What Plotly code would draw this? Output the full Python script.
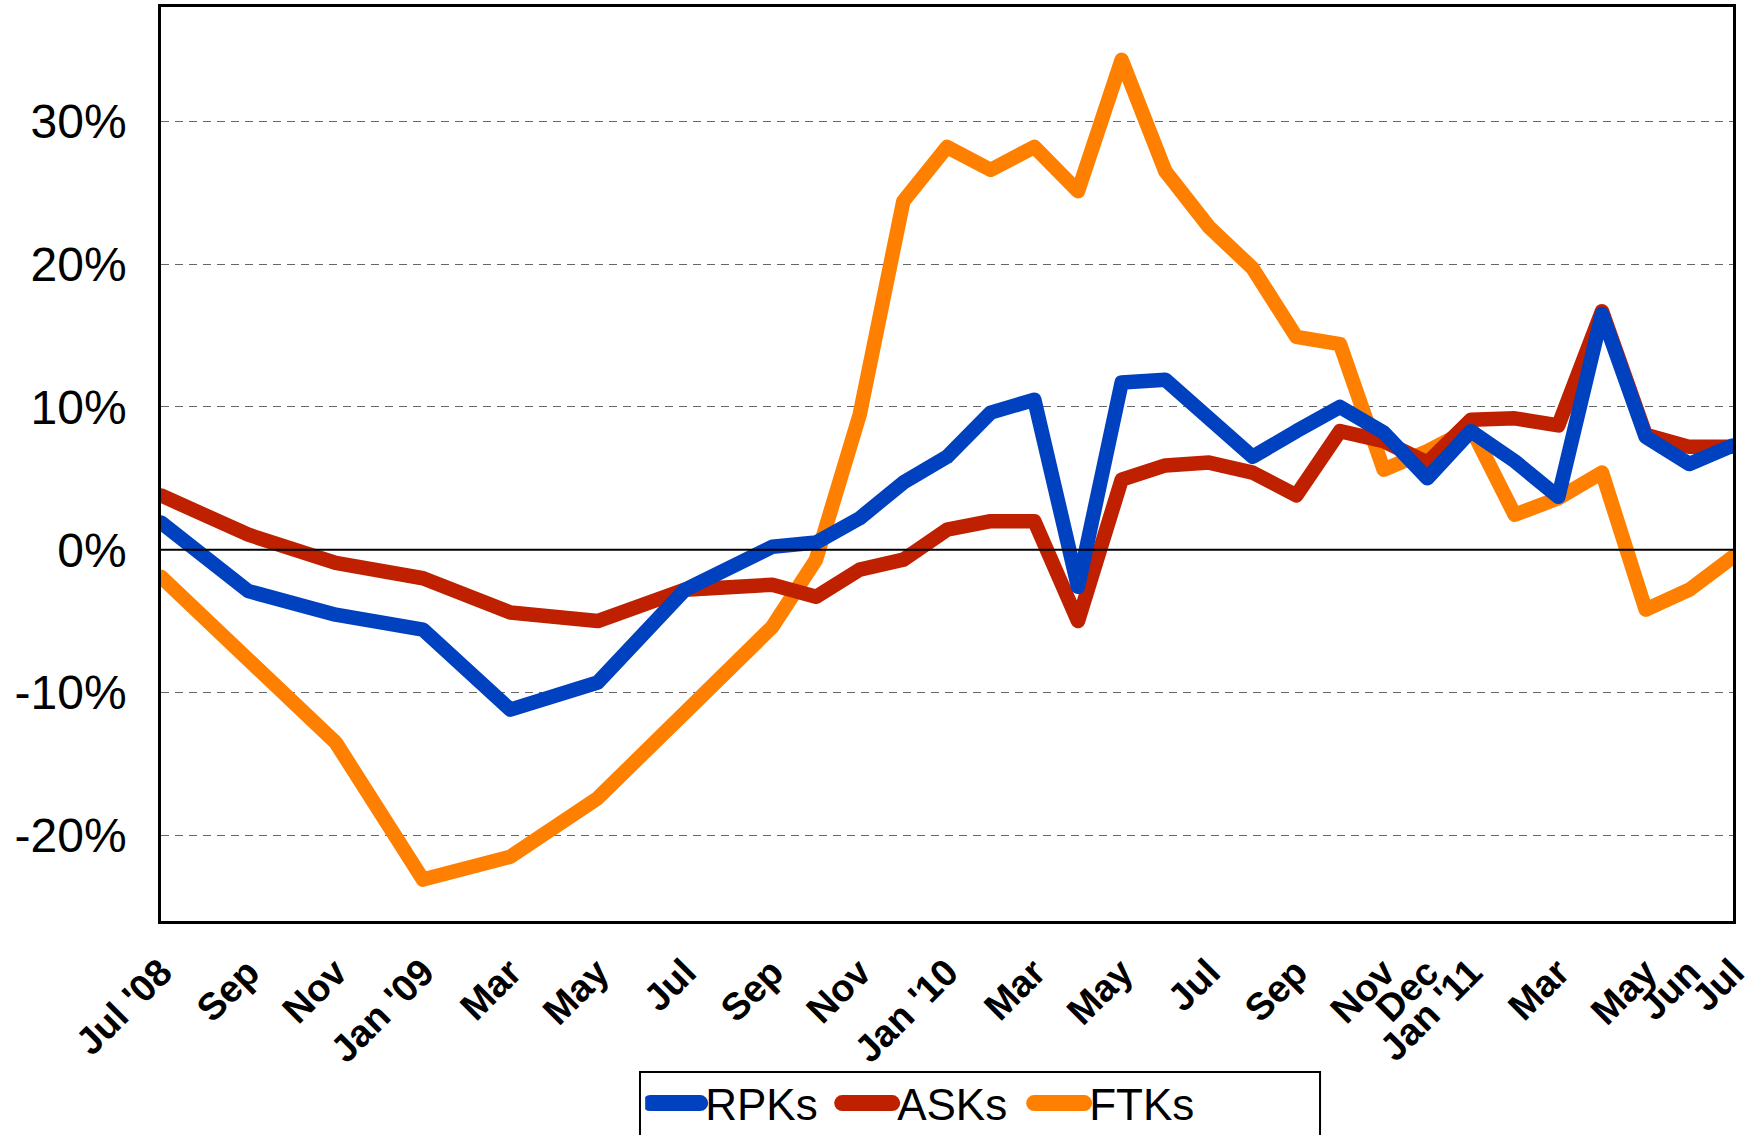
import plotly.graph_objects as go

# Month categories (Jul 2008 .. Jul 2011)
months = ["2008-07", "2008-08", "2008-09", "2008-10", "2008-11", "2008-12",
          "2009-01", "2009-02", "2009-03", "2009-04", "2009-05", "2009-06",
          "2009-07", "2009-08", "2009-09", "2009-10", "2009-11", "2009-12",
          "2010-01", "2010-02", "2010-03", "2010-04", "2010-05", "2010-06",
          "2010-07", "2010-08", "2010-09", "2010-10", "2010-11", "2010-12",
          "2011-01", "2011-02", "2011-03", "2011-04", "2011-05", "2011-06",
          "2011-07"]

# Observation months (bi-monthly until Sep 2009, monthly afterwards)
obs_months = ["2008-07", "2008-09", "2008-11", "2009-01", "2009-03", "2009-05",
              "2009-07", "2009-09", "2009-10", "2009-11", "2009-12", "2010-01",
              "2010-02", "2010-03", "2010-04", "2010-05", "2010-06", "2010-07",
              "2010-08", "2010-09", "2010-10", "2010-11", "2010-12", "2011-01",
              "2011-02", "2011-03", "2011-04", "2011-05", "2011-06", "2011-07"]

rpks = [1.9, -2.9, -4.55, -5.6, -11.2, -9.3, -2.8, 0.2, 0.5, 2.2, 4.7, 6.5,
        9.6, 10.5, -2.6, 11.7, 11.9, 9.2, 6.5, 8.3, 10.0, 8.2, 5.0, 8.3,
        6.2, 3.7, 16.5, 7.9, 6.0, 7.3]
asks = [3.8, 1.05, -0.93, -2.0, -4.4, -5.0, -2.8, -2.45, -3.3, -1.4, -0.7, 1.4,
        2.0, 2.0, -5.0, 4.9, 5.9, 6.1, 5.4, 3.8, 8.3, 7.6, 6.1, 9.1,
        9.2, 8.7, 16.7, 8.05, 7.2, 7.2]
ftks = [-1.9, -7.7, -13.5, -23.1, -21.5, -17.4, -11.3, -5.4, -0.7, 9.45, 24.4, 28.2,
        26.6, 28.2, 25.1, 34.3, 26.5, 22.6, 19.7, 14.9, 14.4, 5.6, 6.9, 8.5,
        2.45, 3.6, 5.4, -4.2, -2.8, -0.5]

x_tick_vals = ["2008-07", "2008-09", "2008-11", "2009-01", "2009-03", "2009-05",
               "2009-07", "2009-09", "2009-11", "2010-01", "2010-03", "2010-05",
               "2010-07", "2010-09", "2010-11", "2010-12", "2011-01", "2011-03",
               "2011-05", "2011-06", "2011-07"]
x_tick_text = ["Jul '08", "Sep", "Nov", "Jan '09", "Mar", "May", "Jul", "Sep", "Nov",
               "Jan '10", "Mar", "May", "Jul", "Sep", "Nov", "Dec", "Jan '11", "Mar",
               "May", "Jun", "Jul"]

y_tick_vals = [-20, -10, 0, 10, 20, 30]
y_tick_text = ["-20%", "-10%", "0%", "10%", "20%", "30%"]

series_names = ["RPKs", "ASKs", "FTKs"]
series_colors = ["#0041C0", "#BF2100", "#FF8000"]

FONT = "Liberation Sans, Arial, sans-serif"

fig = go.Figure()
# draw order: FTKs at the back, RPKs on top
for name, vals, col in [(series_names[2], ftks, series_colors[2]),
                        (series_names[1], asks, series_colors[1]),
                        (series_names[0], rpks, series_colors[0])]:
    fig.add_trace(go.Scatter(x=obs_months, y=vals, mode="lines", name=name,
                             line=dict(color=col, width=14.5)))

fig.update_layout(
    width=1754, height=1135,
    margin=dict(l=161, r=21, t=7, b=214, autoexpand=False),
    paper_bgcolor="white", plot_bgcolor="white",
    font=dict(family=FONT, color="black"),
    showlegend=True,
    legend=dict(orientation="h", traceorder="reversed",
                x=0.308, xanchor="left", y=-0.1608, yanchor="top",
                font=dict(size=44, family=FONT, color="black"),
                bgcolor="rgba(0,0,0,0)", borderwidth=0,
                itemwidth=50, entrywidth=127, entrywidthmode="pixels",
                tracegroupgap=0),
    xaxis=dict(type="category", categoryorder="array", categoryarray=months,
               range=[0, len(months) - 1],
               tickmode="array", tickvals=x_tick_vals, ticktext=x_tick_text,
               tickangle=-45, tickfont=dict(size=38, family=FONT, color="black", weight="bold"),
               showgrid=False, zeroline=False, ticks="",
               ticklabelstandoff=11,
               showline=True, linecolor="black", linewidth=2.5, mirror=True),
    yaxis=dict(range=[-26, 38], tickmode="array", tickvals=y_tick_vals, ticktext=y_tick_text,
               tickfont=dict(size=48, family=FONT, color="black"),
               showgrid=True, gridcolor="#666666", gridwidth=1, griddash="8px,6px",
               zeroline=False,
               ticks="", ticklabelstandoff=22,
               showline=True, linecolor="black", linewidth=2.5, mirror=True),
    shapes=[
        dict(type="line", xref="paper", x0=0, x1=1, yref="y", y0=0, y1=0,
             line=dict(color="black", width=2), layer="above"),
        dict(type="rect", xref="paper", yref="paper",
             x0=0.3047, x1=0.7373, y0=-0.1652, y1=-0.27,
             line=dict(color="black", width=2), fillcolor="rgba(0,0,0,0)", layer="above"),
    ],
)

post = """
document.body.style.margin='0';
document.body.style.padding='0';
document.querySelectorAll('.scatterlayer .js-line').forEach(function(p){
  p.style.strokeLinejoin='round'; p.style.strokeLinecap='round';
});
document.querySelectorAll('.legendlines path').forEach(function(p){
  p.style.strokeLinecap='round'; p.style.strokeWidth='16px';
});
"""
fig.write_html("out.html", post_script=post, config={"displayModeBar": False})
